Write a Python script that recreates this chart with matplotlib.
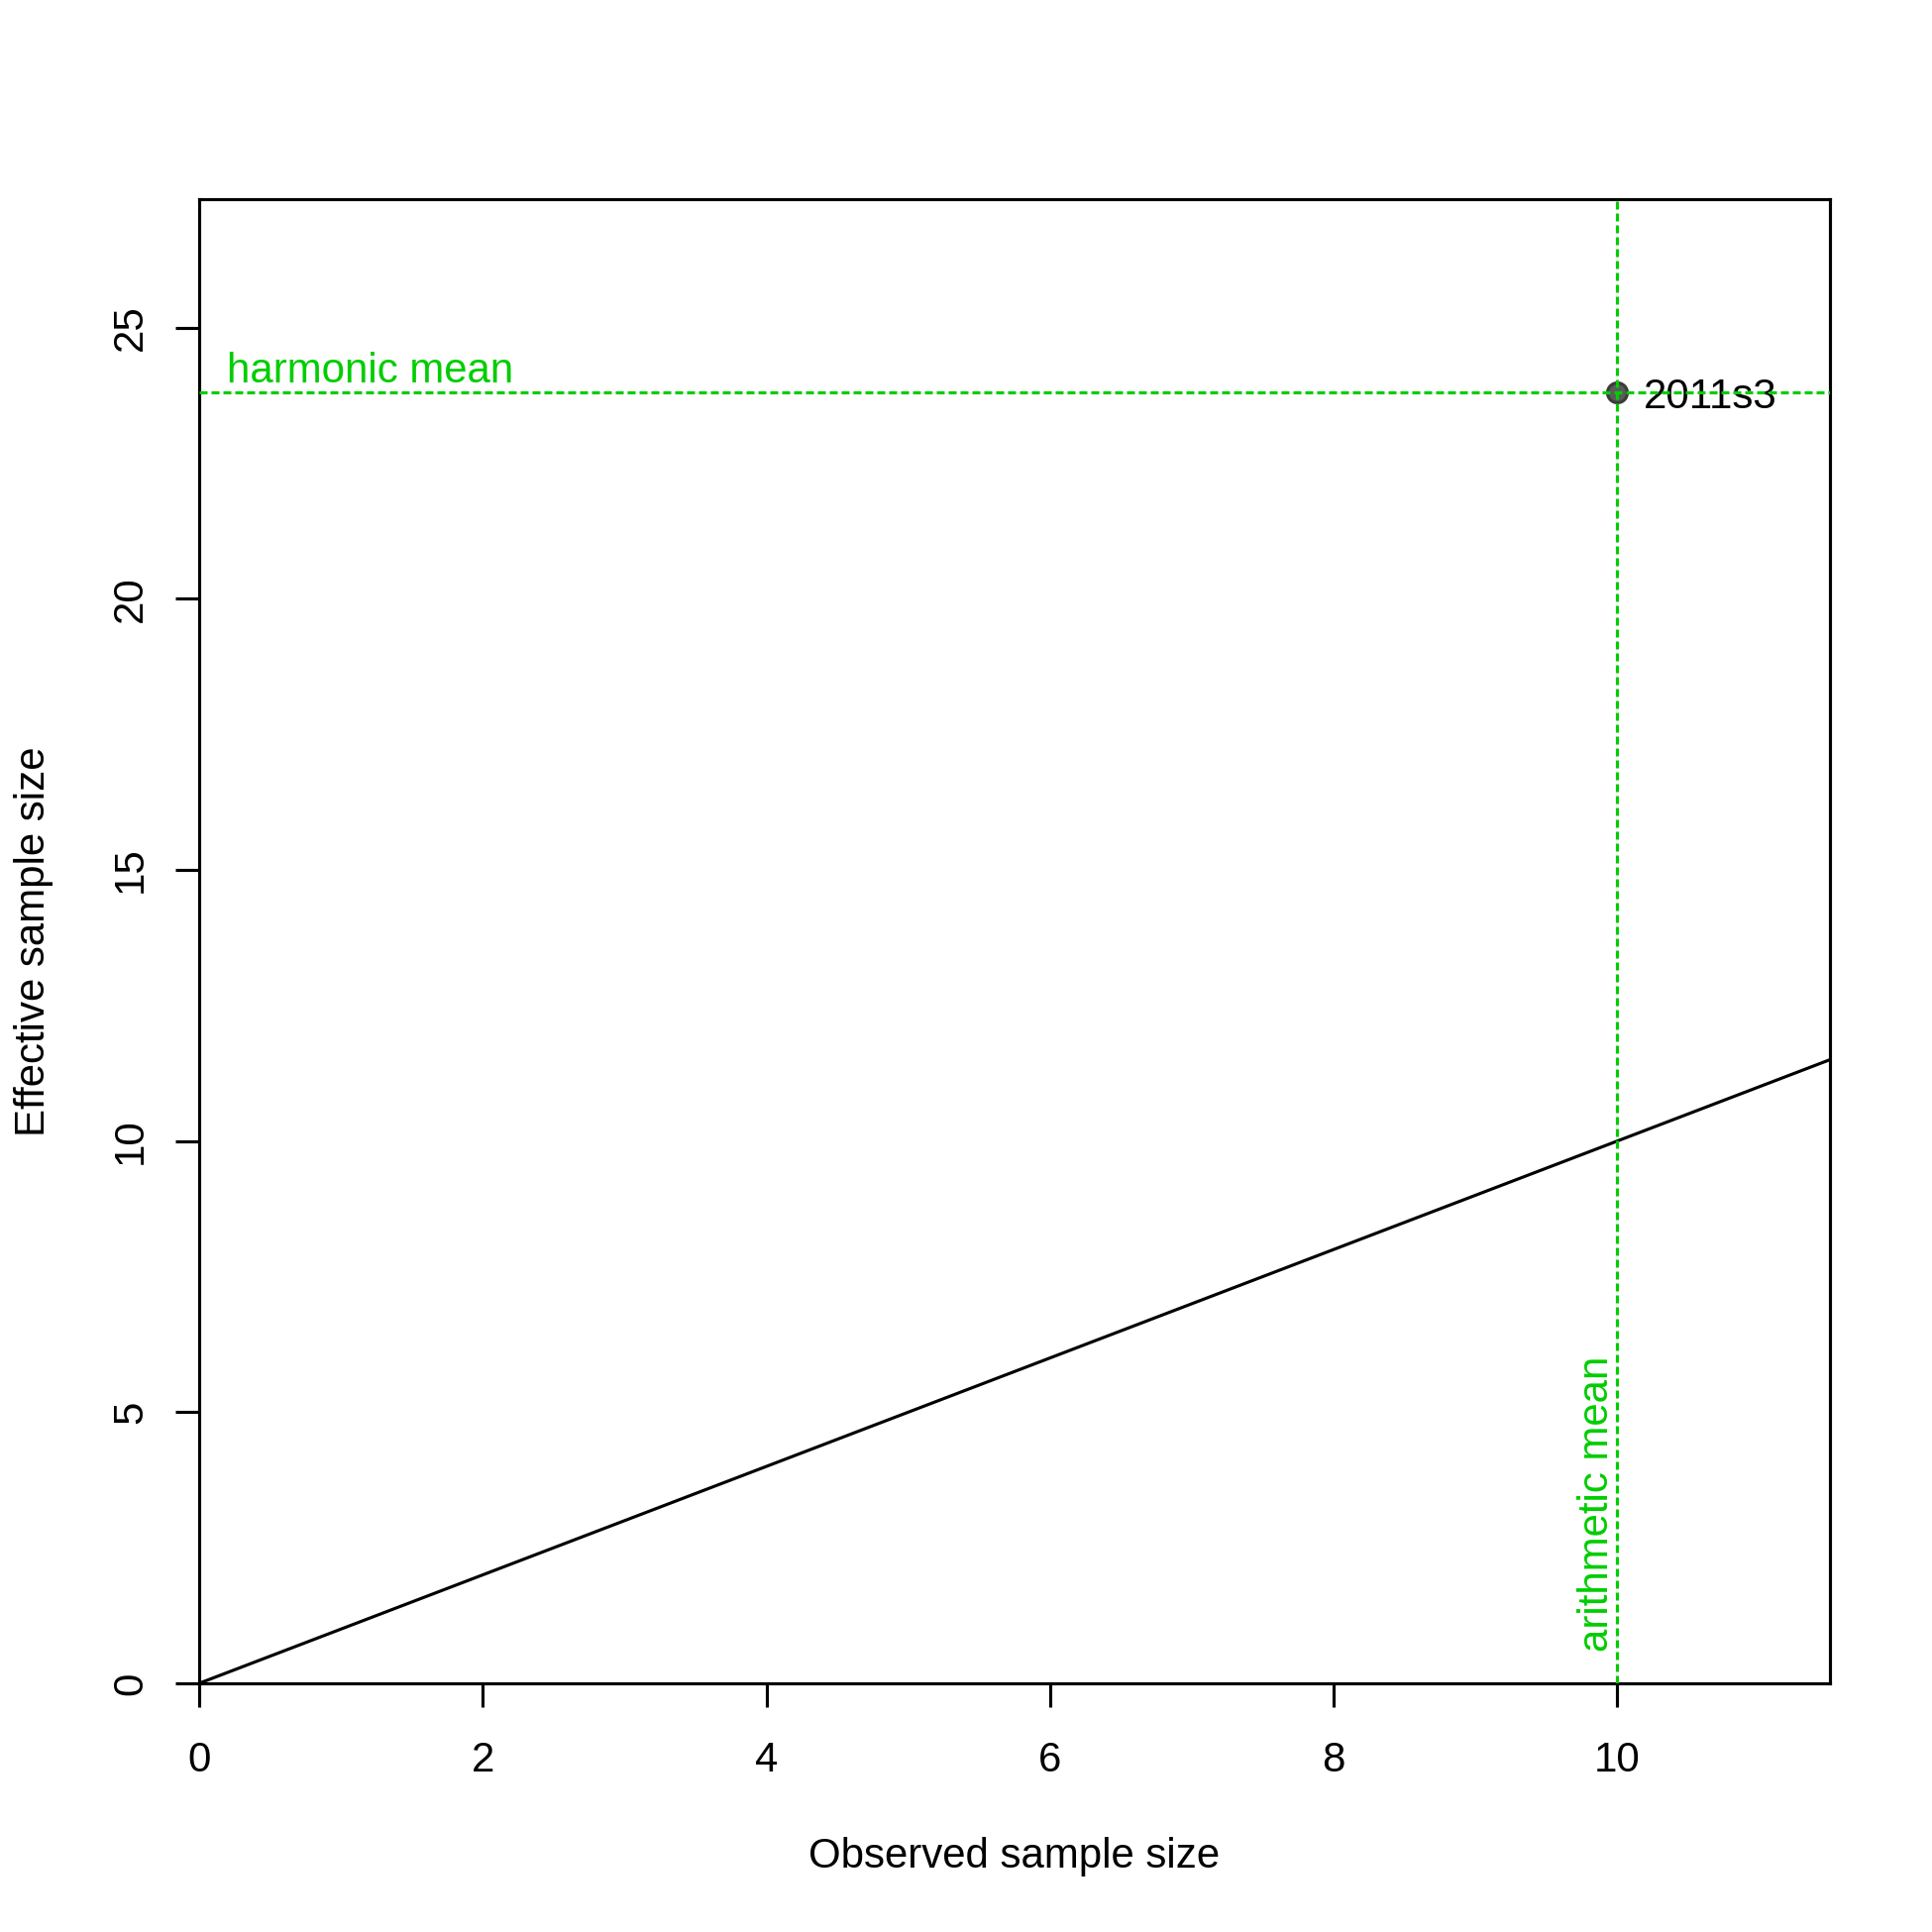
import matplotlib
matplotlib.use("Agg")
import matplotlib.pyplot as plt

# data
years = ["2011s3"]
obs_n = [10]
eff_n = [23.8]
arith_mean = 10
harm_mean = 23.8
x_ticks = [0, 2, 4, 6, 8, 10]
y_ticks = [0, 5, 10, 15, 20, 25]

green = "#00CD00"
fs = 10.1
lw = 0.75

plt.rcParams["font.family"] = ["Liberation Sans", "DejaVu Sans"]
plt.rcParams["font.size"] = fs

fig = plt.figure(figsize=(6.5, 6.5), dpi=300)
W = H = 1950
ax = fig.add_axes([201 / W, 1 - 1699 / H, (1847 - 201) / W, (1699 - 201) / H])

ax.set_xlim(0, max(obs_n) * 1.15)
ax.set_ylim(0, max(eff_n) * 1.15)

# 1:1 line
ax.axline((0, 0), slope=1, color="black", lw=lw, zorder=2)

# mean lines
dash = (0, (2.56, 1.28))
ax.axhline(harm_mean, color=green, lw=lw, linestyle=dash, zorder=4)
ax.axvline(arith_mean, color=green, lw=lw, linestyle=dash, zorder=4)

ax.plot(obs_n, eff_n, "o", ms=4.8, mfc="#5a5a5a", mec="#3c3c3c", mew=lw, zorder=3)
for x, y, lab in zip(obs_n, eff_n, years):
    ax.annotate(lab, (x, y), xytext=(6.3, -3.7), textcoords="offset points",
                ha="left", va="baseline", fontsize=fs, color="black")

ax.annotate("harmonic mean", (0, harm_mean), xytext=(6.8, 2.5),
            textcoords="offset points", ha="left", va="baseline",
            fontsize=fs, color=green)
ax.annotate("arithmetic mean", (arith_mean, 0), xytext=(-2.2, 7.7),
            textcoords="offset points", ha="left", va="baseline",
            rotation=90, rotation_mode="anchor", fontsize=fs, color=green)

ax.set_xticks(x_ticks)
ax.set_yticks(y_ticks)
ax.tick_params(direction="out", length=5.76, width=lw, labelsize=fs)
ax.tick_params(axis="x", pad=8.2)
ax.tick_params(axis="y", pad=6.0)
for t in ax.get_yticklabels():
    t.set_rotation(90)
    t.set_va("center")
for s in ax.spines.values():
    s.set_linewidth(lw)

ax.set_xlabel("Observed sample size", fontsize=fs)
ax.set_ylabel("Effective sample size", fontsize=fs)
ax.xaxis.label.set_va("baseline")
ax.xaxis.set_label_coords(0.5, -186 / 1498)
ax.yaxis.label.set_va("baseline")
ax.yaxis.set_label_coords(-156 / 1646, 0.5)

fig.savefig("out.png", dpi=300)
